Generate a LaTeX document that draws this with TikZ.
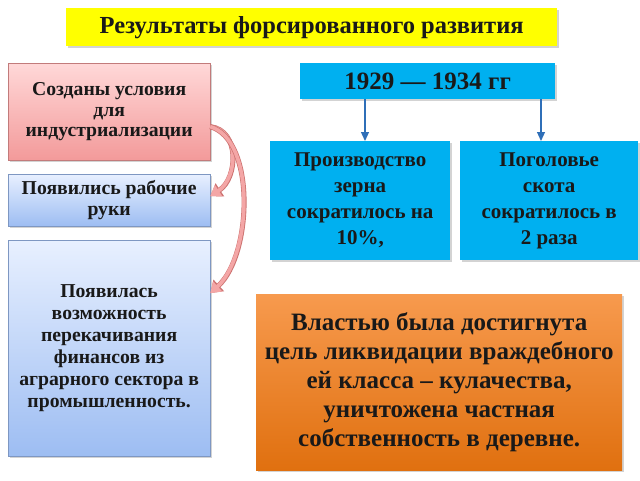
\documentclass[tikz,border=0pt]{standalone}
\usepackage{fontspec}
\setmainfont{Liberation Serif}
\usepackage{xcolor}
\usetikzlibrary{arrows.meta,shadows}

\definecolor{titleyellow}{HTML}{FFFF00}
\definecolor{yearcyan}{HTML}{00B0F0}
\definecolor{pinktop}{HTML}{FFD8D8}
\definecolor{pinkbot}{HTML}{F39A9A}
\definecolor{bluetop}{HTML}{E8F0FF}
\definecolor{bluebot}{HTML}{9DBDF2}
\definecolor{orangetop}{HTML}{F79A4E}
\definecolor{orangebot}{HTML}{E0700F}
\definecolor{arrowpink}{HTML}{F4A6A6}
\definecolor{arrowline}{HTML}{C0504D}
\definecolor{arrowblue}{HTML}{2F6FB8}

\tikzset{
  box/.style={anchor=north west, align=center, inner sep=0pt,
    font=\bfseries, text=black!90, drop shadow={shadow xshift=1.5pt,shadow yshift=-2pt,opacity=.35}},
  redbox/.style={box, top color=pinktop, bottom color=pinkbot, draw=pinkbot!80!black, line width=.3pt},
  bluebox/.style={box, top color=bluetop, bottom color=bluebot, draw=bluebot!80!black, line width=.3pt},
  cyanbox/.style={box, fill=yearcyan},
  curvearrow/.style={draw=arrowpink, line width=3.6pt,
    -{Triangle[length=10pt,width=13pt,fill=arrowpink]},
    preaction={draw=arrowline!80, line width=5pt, -{Triangle[length=11.5pt,width=15pt]}}},
  downarrow/.style={draw=arrowblue, line width=1.2pt, -{Triangle[length=9pt,width=8pt]}}
}

\begin{document}
\begin{tikzpicture}[x=1pt,y=-1pt]
\useasboundingbox (0,0) rectangle (640,480);

% title
\node[box, fill=titleyellow, minimum width=491pt, minimum height=38pt,
  font=\bfseries\fontsize{24.5}{26}\selectfont] (title) at (66,8) {Результаты форсированного развития};

% left column
\node[redbox, minimum width=202pt, minimum height=97pt,
  font=\bfseries\fontsize{19.7}{20.5}\selectfont] (uslovia) at (8,63)
  {Созданы условия\\для\\индустриализации};
\node[bluebox, minimum width=202pt, minimum height=52pt,
  font=\bfseries\fontsize{19.7}{20.5}\selectfont] (ruki) at (8,174)
  {Появились рабочие\\руки};
\node[bluebox, minimum width=202pt, minimum height=216pt,
  font=\bfseries\fontsize{19.7}{22}\selectfont] (finansy) at (8,240)
  {Появилась\\возможность\\перекачивания\\финансов из\\аграрного сектора в\\промышленность.};

% right side
\node[cyanbox, minimum width=255pt, minimum height=36pt,
  font=\bfseries\fontsize{25}{26}\selectfont] (years) at (300,63) {1929 — 1934 гг};
\node[cyanbox, minimum width=180pt, minimum height=119pt,
  font=\bfseries\fontsize{21}{26}\selectfont] (zerno) at (270,141)
  {Производство\\зерна\\сократилось на\\10\%,};
\node[cyanbox, minimum width=178pt, minimum height=119pt,
  font=\bfseries\fontsize{21}{26}\selectfont] (skot) at (460,141)
  {Поголовье\\скота\\сократилось в\\2 раза};
\node[box, top color=orangetop, bottom color=orangebot, minimum width=366pt, minimum height=176pt,
  font=\bfseries\fontsize{25}{29}\selectfont] (vlast) at (256,294)
  {Властью была достигнута\\цель ликвидации враждебного\\ей класса – кулачества,\\уничтожена частная\\собственность в деревне.};

% connectors
\coordinate (y1) at (365,99);
\coordinate (y2) at (541,99);
\draw[downarrow] (y1) -- (y1 |- zerno.north);
\draw[downarrow] (y2) -- (y2 |- skot.north);

\draw[curvearrow] ([yshift=-15pt]uslovia.east) .. controls (240,130) and (238,178) .. ([yshift=4pt]ruki.east);
\draw[curvearrow] ([yshift=-15pt]uslovia.east) .. controls (256,140) and (252,255) .. ([yshift=55pt]finansy.east);
\end{tikzpicture}
\end{document}
